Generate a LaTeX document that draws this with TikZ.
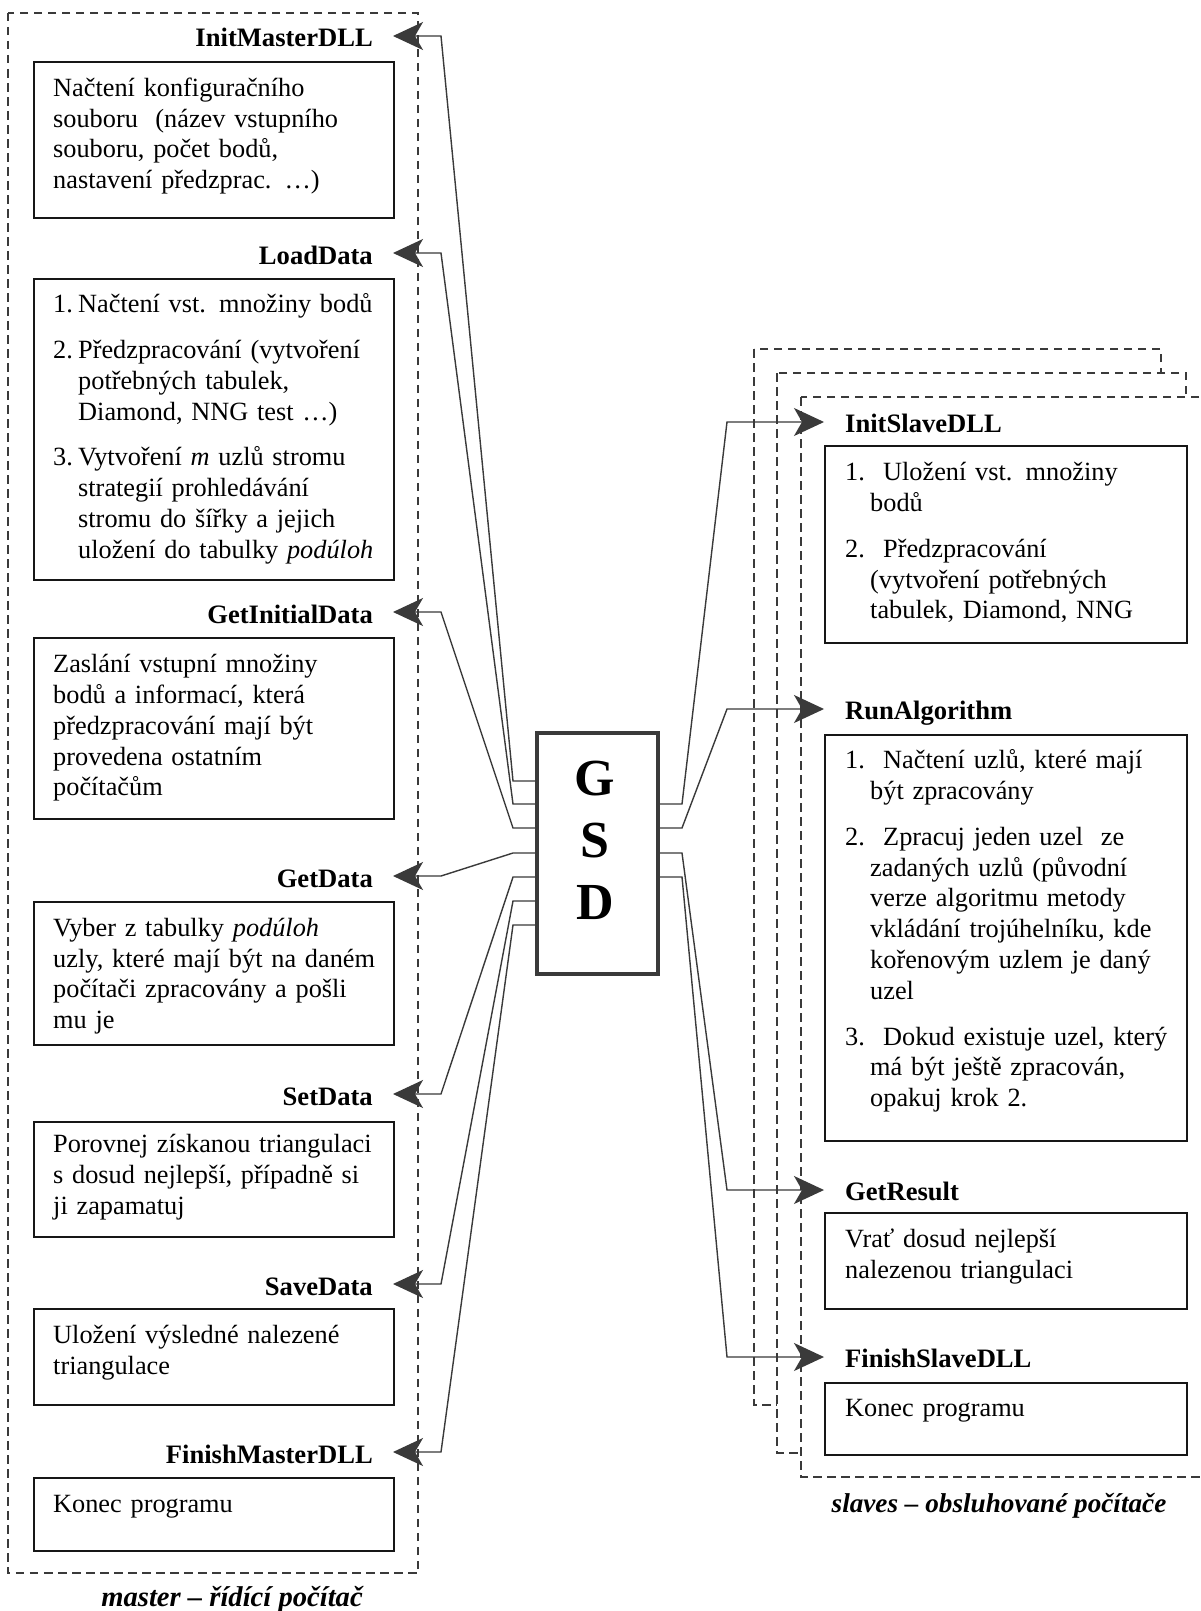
\documentclass[tikz,border=0pt]{standalone}
\usepackage{fontspec}
\setmainfont{Liberation Serif}
\usetikzlibrary{arrows.meta,calc}

\definecolor{ink}{HTML}{161616}
\definecolor{wire}{HTML}{3A3A3A}

\newcommand{\bodyfont}{\fontsize{26.3}{30.8}\selectfont}
\newcommand{\headfont}{\bfseries\fontsize{26.6}{30}\selectfont}
\newcommand{\num}[1]{\makebox[25pt][l]{#1}}
\newcommand{\snum}[1]{\makebox[38pt][l]{#1}}
\newcommand{\ind}{\hspace*{25pt}}

\tikzset{
  x=1pt, y=-1pt,
  frame/.style={draw=wire, line width=1.7pt, dash pattern=on 8.5pt off 5.5pt},
  sframe/.style={frame, fill=white},
  card/.style={draw=ink, line width=2pt, fill=white, anchor=north west,
               inner sep=0pt, minimum width=#1},
  body/.style={anchor=north west, inner sep=0pt, font=\bodyfont,
               text width=345pt, align=left},
  mhead/.style={anchor=east, inner sep=0pt, font=\headfont,
                text height=18pt, text depth=0pt},
  shead/.style={anchor=west, inner sep=0pt, font=\headfont,
                text height=18pt, text depth=0pt},
  conn/.style={draw=wire, line width=1.4pt,
               -{Stealth[length=30pt, width=28pt, inset=8pt]}},
  caption/.style={inner sep=0pt, font=\bfseries\itshape\fontsize{28}{32}\selectfont}
}

\begin{document}
\begin{tikzpicture}
\useasboundingbox (0,0) rectangle (1200,1611);
\fill[white] (0,0) rectangle (1200,1611);

% ---- master side ----
\draw[frame] (8,13) rectangle (418,1573);
\node[caption, font=\bfseries\itshape\fontsize{28.6}{32}\selectfont] (mcap) at (232,1599) {master -- řídící počítač};

\node[card=360pt, minimum height=156pt] (bInitM) at (33,61) {};
\node[body] at ($(bInitM.north west)+(20,13.5)$)
  {\strut Načtení konfiguračního\\ souboru~ (název vstupního\\ souboru, počet bodů,\\ nastavení předzprac. …)};
\node[mhead] (hInitM) at (373,38) {InitMasterDLL};

\node[card=360pt, minimum height=301pt] (bLoad) at (33,278) {};
\node[body] at ($(bLoad.north west)+(20,13)$)
  {\strut\num{1.}Načtení vst. množiny bodů\\[15pt]
   \num{2.}Předzpracování (vytvoření\\ \ind potřebných tabulek,\\ \ind Diamond, NNG test …)\\[15pt]
   \num{3.}Vytvoření \textit{m} uzlů stromu\\ \ind strategií prohledávání\\ \ind stromu do šířky a jejich\\ \ind uložení do tabulky \textit{podúloh}};
\node[mhead] (hLoad) at (373,255) {LoadData};

\node[card=360pt, minimum height=181pt] (bGetI) at (33,637) {};
\node[body] at ($(bGetI.north west)+(20,14)$)
  {\strut Zaslání vstupní množiny\\ bodů a informací, která\\ předzpracování mají být\\ provedena ostatním\\ počítačům};
\node[mhead] (hGetI) at (373,614) {GetInitialData};

\node[card=360pt, minimum height=143pt] (bGetD) at (33,901) {};
\node[body] at ($(bGetD.north west)+(20,13.5)$)
  {\strut Vyber z tabulky \textit{podúloh}\\ uzly, které mají být na daném\\ počítači zpracovány a pošli\\ mu je};
\node[mhead] (hGetD) at (373,878) {GetData};

\node[card=360pt, minimum height=115pt] (bSet) at (33,1121) {};
\node[body] at ($(bSet.north west)+(20,10)$)
  {\strut Porovnej získanou triangulaci\\ s dosud nejlepší, případně si\\ ji zapamatuj};
\node[mhead] (hSet) at (373,1096) {SetData};

\node[card=360pt, minimum height=96pt] (bSave) at (33,1308) {};
\node[body] at ($(bSave.north west)+(20,14)$)
  {\strut Uložení výsledné nalezené\\ triangulace};
\node[mhead] (hSave) at (373,1286) {SaveData};

\node[card=360pt, minimum height=73pt] (bFinM) at (33,1477) {};
\node[body] at ($(bFinM.north west)+(20,14)$) {\strut Konec programu};
\node[mhead] (hFinM) at (373,1454) {FinishMasterDLL};

% ---- slave side: stacked computers ----
\draw[sframe] (754,349) rectangle (1161,1405);
\draw[sframe] (777,373) rectangle (1186,1453);
\draw[sframe] (801,397) rectangle (1215,1477);
\node[caption, font=\bfseries\itshape\fontsize{27.2}{32}\selectfont] (scap) at (999,1506) {slaves -- obsluhované počítače};

\node[card=362pt, minimum height=197pt] (bInitS) at (824,445) {};
\node[body] at ($(bInitS.north west)+(21,14)$)
  {\strut\snum{1.}Uložení vst. množiny\\ \ind bodů\\[15pt]
   \snum{2.}Předzpracování\\ \ind (vytvoření potřebných\\ \ind tabulek, Diamond, NNG};
\node[shead] (hInitS) at (845,423) {InitSlaveDLL};

\node[card=362pt, minimum height=406pt] (bRun) at (824,734) {};
\node[body] at ($(bRun.north west)+(21,13)$)
  {\strut\snum{1.}Načtení uzlů, které mají\\ \ind být zpracovány\\[15pt]
   \snum{2.}Zpracuj jeden uzel~ ze\\ \ind zadaných uzlů (původní\\ \ind verze algoritmu metody\\ \ind vkládání trojúhelníku, kde\\ \ind kořenovým uzlem je daný\\ \ind uzel\\[15pt]
   \snum{3.}Dokud existuje uzel, který\\ \ind má být ještě zpracován,\\ \ind opakuj krok 2.};
\node[shead] (hRun) at (845,710) {RunAlgorithm};

\node[card=362pt, minimum height=96pt] (bGetR) at (824,1212) {};
\node[body] at ($(bGetR.north west)+(21,14)$)
  {\strut Vrať dosud nejlepší\\ nalezenou triangulaci};
\node[shead] (hGetR) at (845,1191) {GetResult};

\node[card=362pt, minimum height=72pt] (bFinS) at (824,1382) {};
\node[body] at ($(bFinS.north west)+(21,13)$) {\strut Konec programu};
\node[shead] (hFinS) at (845,1358) {FinishSlaveDLL};

% ---- GSD hub ----
\node[draw=wire, line width=4pt, fill=white, minimum width=121pt, minimum height=241pt,
      inner sep=0pt] (gsd) at (597.5,853.5) {};
\node[inner sep=0pt, font=\bfseries\fontsize{52}{62}\selectfont, align=center] (gsdtxt)
  at (595,840) {G\\S\\D};

% stub points on the hub
\coordinate (w1) at (537,781);
\coordinate (w2) at (537,804);
\coordinate (w3) at (537,828);
\coordinate (w4) at (537,853);
\coordinate (w5) at (537,877);
\coordinate (w6) at (537,901);
\coordinate (w7) at (537,925);
\coordinate (e1) at (658,804);
\coordinate (e2) at (658,828);
\coordinate (e3) at (658,853);
\coordinate (e4) at (658,877);

% calls to the master
\draw[conn] (w1) -- ++(-24,0) -- (441,36)   -- ([xshift=20pt,yshift=2pt]hInitM.east);
\draw[conn] (w2) -- ++(-24,0) -- (441,253)  -- ([xshift=20pt,yshift=2pt]hLoad.east);
\draw[conn] (w3) -- ++(-24,0) -- (441,612)  -- ([xshift=20pt,yshift=2pt]hGetI.east);
\draw[conn] (w4) -- ++(-24,0) -- (441,876)  -- ([xshift=20pt,yshift=2pt]hGetD.east);
\draw[conn] (w5) -- ++(-24,0) -- (441,1094) -- ([xshift=20pt,yshift=2pt]hSet.east);
\draw[conn] (w6) -- ++(-24,0) -- (441,1284) -- ([xshift=20pt,yshift=2pt]hSave.east);
\draw[conn] (w7) -- ++(-24,0) -- (441,1452) -- ([xshift=20pt,yshift=2pt]hFinM.east);

% calls to the slaves
\draw[conn] (e1) -- ++(24,0) -- (727,422)  -- ([xshift=-21pt,yshift=1pt]hInitS.west);
\draw[conn] (e2) -- ++(24,0) -- (727,709)  -- ([xshift=-21pt,yshift=1pt]hRun.west);
\draw[conn] (e3) -- ++(24,0) -- (727,1190) -- ([xshift=-21pt,yshift=1pt]hGetR.west);
\draw[conn] (e4) -- ++(24,0) -- (727,1357) -- ([xshift=-21pt,yshift=1pt]hFinS.west);
\end{tikzpicture}
\end{document}
